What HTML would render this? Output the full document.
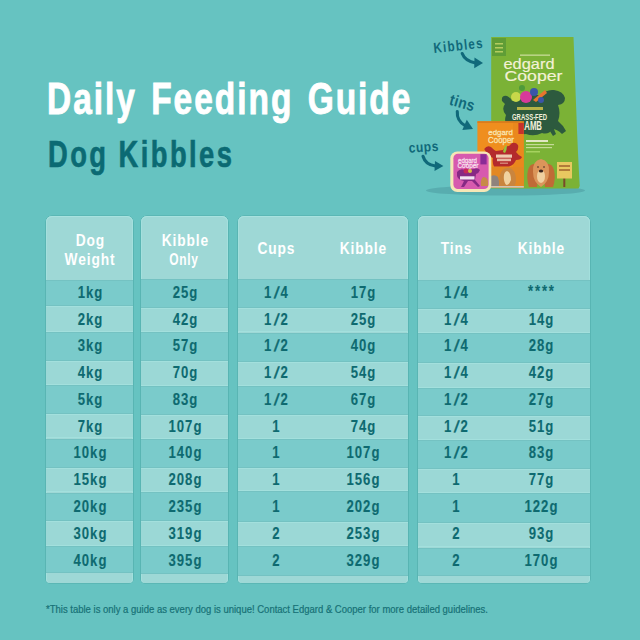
<!DOCTYPE html>
<html><head><meta charset="utf-8">
<style>
html,body{margin:0;padding:0;}
body{width:640px;height:640px;overflow:hidden;background:#66c3c1;position:relative;font-family:"Liberation Sans",sans-serif;}
.abs{position:absolute;}
.title{left:47px;top:74px;font-weight:bold;font-size:44px;color:#fff;white-space:nowrap;transform-origin:0 0;transform:scaleX(0.76);line-height:50px;letter-spacing:2.62px;word-spacing:4px;-webkit-text-stroke:0.9px #fff;}
.sub{left:47.5px;top:134.5px;font-weight:bold;font-size:36px;color:#0b6a73;white-space:nowrap;transform-origin:0 0;transform:scaleX(0.76);line-height:40px;letter-spacing:3.2px;-webkit-text-stroke:0.6px #0b6a73;}
.panel{position:absolute;top:216px;background:#9ed8d6;border-radius:6px 6px 4px 4px;overflow:hidden;box-shadow:0 0 0 0.6px rgba(60,150,150,0.5),inset 0 1px 0 #a8e2df,inset 1px 0 0 #a4e0dd,inset -1px 0 0 #a4e0dd;}
.st{position:absolute;left:0;right:0;}
.sd{background:#7acbcb;box-shadow:inset 0 1px 0 #74c2c2,inset 0 -1px 0 #74c2c2;}
.sl{background:#9bd8d6;box-shadow:inset 0 1px 0 #a3e0dd,inset 0 -1px 0 #a3e0dd;}
.t{position:absolute;line-height:20px;font-weight:bold;font-size:16px;color:#0e6a70;white-space:nowrap;transform:translateX(-50%) scaleX(0.82);letter-spacing:1.2px;text-indent:1.2px;-webkit-text-stroke:0.1px #0e6a70;}
.h{position:absolute;font-weight:bold;font-size:16px;color:#fff;white-space:nowrap;transform:translateX(-50%) scaleX(0.86);text-align:center;line-height:19px;letter-spacing:1px;text-indent:1px;}
.t i{font-style:normal;display:inline-block;margin:0 1.6px;transform:skewX(-14deg);-webkit-text-stroke:0.5px #0e6a70;}
.star{letter-spacing:2.2px;text-indent:2.2px;margin-top:-1px;}
.h2{top:14.5px;}
.on{display:inline-block;transform:scaleX(0.87);margin-right:3px;}
.h1{top:23px;}
.foot{left:46px;top:604px;font-size:10px;color:#177176;-webkit-text-stroke:0.2px #177176;white-space:nowrap;transform-origin:0 0;transform:scaleX(0.95);line-height:12px;}
</style></head>
<body>
<div class="abs title">Daily Feeding Guide</div>
<div class="abs sub">Dog Kibbles</div>

<!-- TABLE -->
<div class="panel" style="left:46.0px;width:87.0px;height:366.5px;">
<div class="st sd" style="top:63.75px;height:26.65px"></div>
<div class="st sl" style="top:90.40px;height:25.50px"></div>
<div class="st sd" style="top:115.90px;height:28.70px"></div>
<div class="st sl" style="top:144.60px;height:24.40px"></div>
<div class="st sd" style="top:169.00px;height:29.40px"></div>
<div class="st sl" style="top:198.40px;height:24.10px"></div>
<div class="st sd" style="top:222.50px;height:29.60px"></div>
<div class="st sl" style="top:252.10px;height:24.40px"></div>
<div class="st sd" style="top:276.50px;height:28.10px"></div>
<div class="st sl" style="top:304.60px;height:25.00px"></div>
<div class="st sd" style="top:329.60px;height:27.90px"></div>
<div class="h h2" style="left:43.5px">Dog<br>Weight</div>
<span class="t" style="left:43.5px;top:66.90px">1kg</span>
<span class="t" style="left:43.5px;top:93.66px">2kg</span>
<span class="t" style="left:43.5px;top:120.42px">3kg</span>
<span class="t" style="left:43.5px;top:147.18px">4kg</span>
<span class="t" style="left:43.5px;top:173.94px">5kg</span>
<span class="t" style="left:43.5px;top:200.70px">7kg</span>
<span class="t" style="left:43.5px;top:227.46px">10kg</span>
<span class="t" style="left:43.5px;top:254.22px">15kg</span>
<span class="t" style="left:43.5px;top:280.98px">20kg</span>
<span class="t" style="left:43.5px;top:307.74px">30kg</span>
<span class="t" style="left:43.5px;top:334.50px">40kg</span>
</div>
<div class="panel" style="left:141.0px;width:87.0px;height:366.75px;">
<div class="st sd" style="top:63.40px;height:28.35px"></div>
<div class="st sl" style="top:91.75px;height:24.15px"></div>
<div class="st sd" style="top:115.90px;height:29.10px"></div>
<div class="st sl" style="top:145.00px;height:24.60px"></div>
<div class="st sd" style="top:169.60px;height:29.15px"></div>
<div class="st sl" style="top:198.75px;height:24.00px"></div>
<div class="st sd" style="top:222.75px;height:28.75px"></div>
<div class="st sl" style="top:251.50px;height:24.40px"></div>
<div class="st sd" style="top:275.90px;height:29.35px"></div>
<div class="st sl" style="top:305.25px;height:24.35px"></div>
<div class="st sd" style="top:329.60px;height:28.15px"></div>
<div class="h h2" style="left:44.0px">Kibble<br><span class="on">Only</span></div>
<span class="t" style="left:44.0px;top:66.90px">25g</span>
<span class="t" style="left:44.0px;top:93.66px">42g</span>
<span class="t" style="left:44.0px;top:120.42px">57g</span>
<span class="t" style="left:44.0px;top:147.18px">70g</span>
<span class="t" style="left:44.0px;top:173.94px">83g</span>
<span class="t" style="left:44.0px;top:200.70px">107g</span>
<span class="t" style="left:44.0px;top:227.46px">140g</span>
<span class="t" style="left:44.0px;top:254.22px">208g</span>
<span class="t" style="left:44.0px;top:280.98px">235g</span>
<span class="t" style="left:44.0px;top:307.74px">319g</span>
<span class="t" style="left:44.0px;top:334.50px">395g</span>
</div>
<div class="panel" style="left:237.5px;width:170.5px;height:367.0px;">
<div class="st sd" style="top:62.75px;height:29.35px"></div>
<div class="st sl" style="top:92.10px;height:24.40px"></div>
<div class="st sd" style="top:116.50px;height:29.40px"></div>
<div class="st sl" style="top:145.90px;height:23.70px"></div>
<div class="st sd" style="top:169.60px;height:29.40px"></div>
<div class="st sl" style="top:199.00px;height:23.75px"></div>
<div class="st sd" style="top:222.75px;height:29.35px"></div>
<div class="st sl" style="top:252.10px;height:23.15px"></div>
<div class="st sd" style="top:275.25px;height:30.65px"></div>
<div class="st sl" style="top:305.90px;height:23.70px"></div>
<div class="st sd" style="top:329.60px;height:30.00px"></div>
<div class="h h1" style="left:38.5px">Cups</div>
<div class="h h1" style="left:125.5px">Kibble</div>
<span class="t" style="left:38.5px;top:66.90px">1<i>/</i>4</span>
<span class="t" style="left:125.5px;top:66.90px">17g</span>
<span class="t" style="left:38.5px;top:93.66px">1<i>/</i>2</span>
<span class="t" style="left:125.5px;top:93.66px">25g</span>
<span class="t" style="left:38.5px;top:120.42px">1<i>/</i>2</span>
<span class="t" style="left:125.5px;top:120.42px">40g</span>
<span class="t" style="left:38.5px;top:147.18px">1<i>/</i>2</span>
<span class="t" style="left:125.5px;top:147.18px">54g</span>
<span class="t" style="left:38.5px;top:173.94px">1<i>/</i>2</span>
<span class="t" style="left:125.5px;top:173.94px">67g</span>
<span class="t" style="left:38.5px;top:200.70px">1</span>
<span class="t" style="left:125.5px;top:200.70px">74g</span>
<span class="t" style="left:38.5px;top:227.46px">1</span>
<span class="t" style="left:125.5px;top:227.46px">107g</span>
<span class="t" style="left:38.5px;top:254.22px">1</span>
<span class="t" style="left:125.5px;top:254.22px">156g</span>
<span class="t" style="left:38.5px;top:280.98px">1</span>
<span class="t" style="left:125.5px;top:280.98px">202g</span>
<span class="t" style="left:38.5px;top:307.74px">2</span>
<span class="t" style="left:125.5px;top:307.74px">253g</span>
<span class="t" style="left:38.5px;top:334.50px">2</span>
<span class="t" style="left:125.5px;top:334.50px">329g</span>
</div>
<div class="panel" style="left:417.5px;width:172.0px;height:367.1px;">
<div class="st sd" style="top:63.75px;height:29.65px"></div>
<div class="st sl" style="top:93.40px;height:23.35px"></div>
<div class="st sd" style="top:116.75px;height:29.75px"></div>
<div class="st sl" style="top:146.50px;height:25.00px"></div>
<div class="st sd" style="top:171.50px;height:28.10px"></div>
<div class="st sl" style="top:199.60px;height:24.15px"></div>
<div class="st sd" style="top:223.75px;height:29.65px"></div>
<div class="st sl" style="top:253.40px;height:23.70px"></div>
<div class="st sd" style="top:277.10px;height:30.00px"></div>
<div class="st sl" style="top:307.10px;height:24.40px"></div>
<div class="st sd" style="top:331.50px;height:28.75px"></div>
<div class="h h1" style="left:38.0px">Tins</div>
<div class="h h1" style="left:123.5px">Kibble</div>
<span class="t" style="left:38.0px;top:66.90px">1<i>/</i>4</span>
<span class="t star" style="left:123.5px;top:66.90px">****</span>
<span class="t" style="left:38.0px;top:93.66px">1<i>/</i>4</span>
<span class="t" style="left:123.5px;top:93.66px">14g</span>
<span class="t" style="left:38.0px;top:120.42px">1<i>/</i>4</span>
<span class="t" style="left:123.5px;top:120.42px">28g</span>
<span class="t" style="left:38.0px;top:147.18px">1<i>/</i>4</span>
<span class="t" style="left:123.5px;top:147.18px">42g</span>
<span class="t" style="left:38.0px;top:173.94px">1<i>/</i>2</span>
<span class="t" style="left:123.5px;top:173.94px">27g</span>
<span class="t" style="left:38.0px;top:200.70px">1<i>/</i>2</span>
<span class="t" style="left:123.5px;top:200.70px">51g</span>
<span class="t" style="left:38.0px;top:227.46px">1<i>/</i>2</span>
<span class="t" style="left:123.5px;top:227.46px">83g</span>
<span class="t" style="left:38.0px;top:254.22px">1</span>
<span class="t" style="left:123.5px;top:254.22px">77g</span>
<span class="t" style="left:38.0px;top:280.98px">1</span>
<span class="t" style="left:123.5px;top:280.98px">122g</span>
<span class="t" style="left:38.0px;top:307.74px">2</span>
<span class="t" style="left:123.5px;top:307.74px">93g</span>
<span class="t" style="left:38.0px;top:334.50px">2</span>
<span class="t" style="left:123.5px;top:334.50px">170g</span>
</div>
<!-- /TABLE -->

<div class="abs foot">*This table is only a guide as every dog is unique! Contact Edgard &amp; Cooper for more detailed guidelines.</div>

<!-- PRODUCT -->
<svg class="abs" style="left:0;top:0" width="640" height="640" viewBox="0 0 640 640">
  <!-- shadow -->
  <ellipse cx="505.5" cy="190.4" rx="79.5" ry="5.2" fill="#58adaf"/>
  <!-- bag -->
  <path d="M491.2,37 L573.5,37 Q575.5,90 577,130 Q578.5,165 579.7,186 L578.5,188.5 L491.2,188.5 Z" fill="#7bb236"/>
  <rect x="492" y="38" width="14" height="18" fill="#5f9d36"/>
  <rect x="495" y="43" width="8" height="1.5" fill="#c9d86a" opacity=".8"/>
  <rect x="495" y="47" width="8" height="1.5" fill="#c9d86a" opacity=".8"/>
  <rect x="495" y="51" width="8" height="1.5" fill="#c9d86a" opacity=".8"/>
  <rect x="520" y="54.5" width="30" height="1.3" fill="#e8eec0" opacity=".7"/>
  <text x="503.5" y="69" font-family="Liberation Sans" font-size="14" fill="#f4f1d6" stroke="#f4f1d6" stroke-width="0.15" textLength="51" lengthAdjust="spacingAndGlyphs">edgard</text>
  <text x="504.5" y="80.5" font-family="Liberation Sans" font-size="14" fill="#f4f1d6" stroke="#f4f1d6" stroke-width="0.15" textLength="58" lengthAdjust="spacingAndGlyphs">Cooper</text>
  <!-- sheep -->
  <path d="M502,101 Q501,95 507,96 Q511,98 512,101 Q518,96 526,97 Q534,93 541,96 Q546,89 554,90 Q563,91 565,98 Q565,104 558,105 Q561,113 558,121 Q563,125 566,131 L562,134 Q557,129 552,129 Q549,135 542,133 Q534,137 526,134 Q516,135 510,129 Q503,124 506,115 Q501,109 505,104 Z" fill="#2d5a3e"/>
  <path d="M548,128 L553,136 L556,134 L553,127 Z" fill="#2d5a3e"/>
  <!-- veggies -->
  <circle cx="516" cy="97" r="5" fill="#c8d84a"/>
  <circle cx="526" cy="97" r="6" fill="#d83a9a"/>
  <circle cx="534" cy="92" r="4" fill="#3b55a8"/>
  <path d="M533,100 L545,90 L547,93 L536,102 Z" fill="#e8742e"/>
  <circle cx="522" cy="88" r="3" fill="#4f9a3a"/>
  <circle cx="541" cy="100" r="3" fill="#3b55a8"/>
  <rect x="517" y="107" width="26" height="3" fill="#d9c94a" opacity=".8"/>
  <text x="512" y="119.5" font-family="Liberation Sans" font-weight="bold" font-size="9" fill="#f2f0dc" textLength="35" lengthAdjust="spacingAndGlyphs">GRASS-FED</text>
  <text x="519.5" y="130" font-family="Liberation Sans" font-weight="bold" font-size="12" fill="#f2f0dc" textLength="22.5" lengthAdjust="spacingAndGlyphs">LAMB</text>
  <rect x="526" y="140" width="22" height="2" fill="#f2f0dc" opacity=".85"/>
  <rect x="526" y="144" width="28" height="1.2" fill="#e6ecc0" opacity=".7"/>
  <rect x="526" y="147" width="26" height="1.2" fill="#e6ecc0" opacity=".7"/>
  <rect x="526" y="151" width="14" height="1.5" fill="#b9e070" opacity=".7"/>
  <!-- dog on bag -->
  <path d="M529,187 Q526,178 528,170 Q530,163 535,164 Q538,170 538,178 L537,187 Z" fill="#c06a36"/>
  <path d="M553,187 Q556,178 554,170 Q552,163 547,164 Q544,170 544,178 L545,187 Z" fill="#c06a36"/>
  <path d="M533,172 Q532,161 541,159 Q550,161 549,172 Q549,182 541,187 Q533,182 533,172 Z" fill="#db955a"/>
  <path d="M537,176 Q537,171 541,170 Q545,171 545,176 Q545,182 541,183 Q537,182 537,176 Z" fill="#f0d0a0"/>
  <ellipse cx="541" cy="171" rx="2.2" ry="1.5" fill="#3a2520"/>
  <circle cx="538" cy="167" r="0.8" fill="#3a2520"/>
  <circle cx="544" cy="167" r="0.8" fill="#3a2520"/>
  <!-- sign -->
  <rect x="563.3" y="172" width="2" height="15" fill="#7a4a2a"/>
  <rect x="557" y="162" width="15" height="16.5" fill="#e8c860"/>
  <rect x="559" y="165" width="11" height="2" fill="#9a5a2a" opacity=".7"/>
  <rect x="559" y="169" width="11" height="2" fill="#9a5a2a" opacity=".7"/>
  <!-- tin -->
  <rect x="477.4" y="121.3" width="46.4" height="66.3" fill="#ef8e1e"/>
  <rect x="477.4" y="121.3" width="46.4" height="1.6" fill="#d97a1c"/>
  <rect x="513" y="123" width="10.8" height="64.6" fill="#e6831c" opacity=".6"/>
  <rect x="518.4" y="123" width="5.4" height="11" fill="#c6322c"/>
  <text x="488.3" y="135" font-family="Liberation Sans" font-size="8" fill="#f8e3b0" stroke="#f8e3b0" stroke-width="0.3" textLength="24.5" lengthAdjust="spacingAndGlyphs">edgard</text>
  <text x="488" y="142.6" font-family="Liberation Sans" font-size="8.5" fill="#f8e3b0" stroke="#f8e3b0" stroke-width="0.3" textLength="26" lengthAdjust="spacingAndGlyphs">Cooper</text>
  <path d="M484.2,149 Q487,145 491,147 Q494,150 496,151 L503,150 Q505,146 509,146 L512,143 Q516,142 518,145 Q519,149 516,152 Q519,156 522,157 Q521,160 516,160 Q514,165 509,166.6 L494,166.6 Q492,162 493,158 Q488,156 484.2,149 Z" fill="#b42a2c"/>
  <path d="M503,152 Q504,146 507,145 Q507,150 505,153 Z" fill="#9ac23c"/>
  <rect x="496" y="154.5" width="16" height="3.2" fill="#f4dcc0" opacity=".9"/>
  <rect x="497" y="158.6" width="14" height="2.6" fill="#f4dcc0" opacity=".8"/>
  <rect x="500" y="162.6" width="8" height="1.2" fill="#f4dcc0" opacity=".6"/>
  <rect x="477.4" y="167" width="46.4" height="20.6" fill="#e38823"/>
  <path d="M489,187 Q488,180 491,176 Q495,174 498,177 Q500,182 499,187 Z" fill="#8f837c"/>
  <path d="M500,187 Q498,178 501,172 Q505,167 510,168 Q515,170 516,178 Q516,184 514,187 Z" fill="#c9853e"/>
  <path d="M504,180 Q503,172 507,171 Q511,172 511,180 Q509,185 507,185 Q505,185 504,180 Z" fill="#f0d2a0"/>
  <rect x="477.4" y="186" width="46.4" height="1.6" fill="#cfc6b6"/>
  <!-- tray -->
  <rect x="450.3" y="151.5" width="41" height="40.6" rx="7" fill="#f5e7b6"/>
  <rect x="453.4" y="153.8" width="35.2" height="35.2" rx="4.5" fill="#d75aae"/>
  <rect x="480.4" y="154.2" width="6.2" height="10.2" fill="#8a2c96"/>
  <text x="458" y="162.5" font-family="Liberation Sans" font-size="6.5" fill="#f6dcea" stroke="#f6dcea" stroke-width="0.3" textLength="19" lengthAdjust="spacingAndGlyphs">edgard</text>
  <text x="457.5" y="168" font-family="Liberation Sans" font-size="6.5" fill="#f6dcea" stroke="#f6dcea" stroke-width="0.3" textLength="21" lengthAdjust="spacingAndGlyphs">Cooper</text>
  <path d="M457,172 Q460,168 465,170 L474,169 Q478,167 480,170 Q479,173 476,174 L475,180 L480,186 L478,187 L472,181 L468,181 L464,187 L461,187 L464,181 Q458,180 457,176 Z" fill="#7e2480" opacity=".9"/>
  <circle cx="466" cy="171" r="2.5" fill="#c6285a"/>
  <circle cx="470" cy="171" r="2" fill="#d8c040"/>
  <rect x="460" y="176.3" width="14.5" height="3.2" fill="#f2e4f2"/>
  <path d="M481,186 Q480,180 483,177 Q487,177 488,181 L488,186 Z" fill="#c88a48"/>
  <!-- labels -->
  <g fill="#10697a" font-family="Liberation Sans" font-weight="bold">
    <text x="0" y="0" font-size="14.5" transform="translate(434 53) rotate(-6) scale(0.8 1)" textLength="61.5" lengthAdjust="spacing">Kibbles</text>
    <text x="0" y="0" font-size="16" transform="translate(448.6 104.4) rotate(16) scale(0.86 1)" textLength="29.5" lengthAdjust="spacing">tins</text>
    <text x="0" y="0" font-size="14" transform="translate(409 152.8) rotate(-4) scale(0.86 1)" textLength="34.5" lengthAdjust="spacing">cups</text>
  </g>
  <g fill="none" stroke="#10697a" stroke-width="3.1" stroke-linecap="round">
    <path d="M462.2,53.5 Q465,61 475.5,63"/>
    <path d="M457.3,111.5 Q456.5,121 465.5,126"/>
    <path d="M423,156.3 Q425.5,165 435.5,166"/>
  </g>
  <g fill="#10697a">
    <path d="M474.5,57.6 L483,63 L474.2,68.2 Z"/>
    <path d="M466.8,119.8 L473,129 L462.3,130 Z"/>
    <path d="M435,161 L443.4,166 L434.5,171 Z"/>
  </g>
</svg>

</body></html>
